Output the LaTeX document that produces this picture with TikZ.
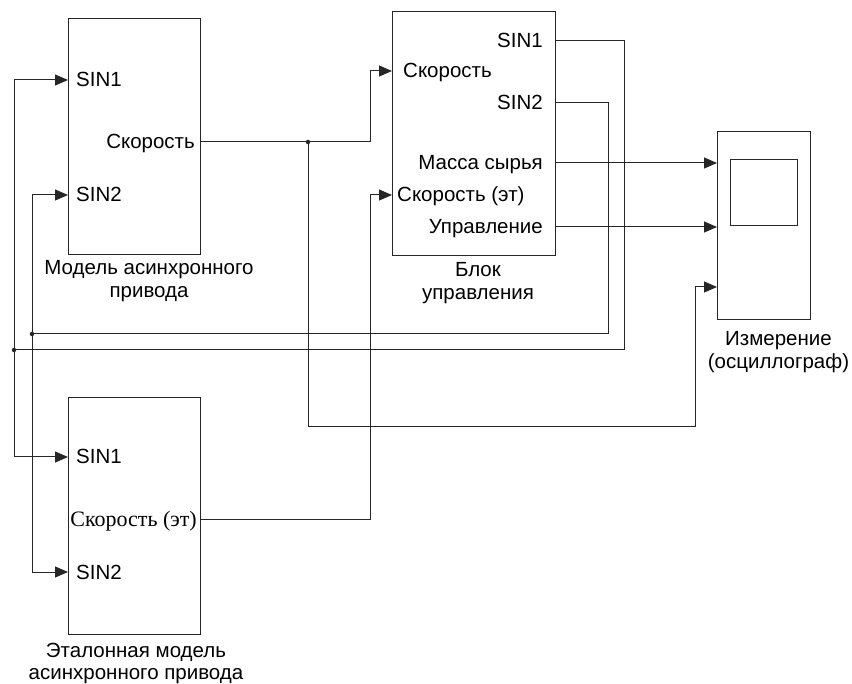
\documentclass[tikz,border=0pt]{standalone}
\usepackage{fontspec}
\setmainfont{Liberation Sans}
\newfontfamily\timesfont{Liberation Serif}
\usetikzlibrary{arrows.meta, positioning, calc}

\begin{document}
\begin{tikzpicture}[x=1pt, y=-1pt,
  block/.style={draw=black!85, line width=1pt, inner sep=0pt},
  port/.style={font=\fontsize{20.5}{24}\selectfont, inner ysep=0pt, inner xsep=8pt,
               text height=14pt, text depth=0pt},
  caption/.style={font=\fontsize{20.5}{22.5}\selectfont, align=center, inner sep=0pt},
  wire/.style={draw=black!85, line width=1pt},
  arrow/.style={wire, -{Triangle[length=13pt, width=11pt]}},
  junction/.style={circle, fill=black!85, inner sep=0pt, minimum size=4.5pt}
]
  \useasboundingbox (0,0) rectangle (852,684);

  % blocks
  \node[block, minimum width=132pt, minimum height=236pt] (model)  at (134,137) {};
  \node[block, minimum width=163pt, minimum height=244pt] (ctrl)   at (473.5,134) {};
  \node[block, minimum width=93pt,  minimum height=188pt] (scope)  at (763.5,226) {};
  \node[block, minimum width=67pt,  minimum height=66pt]  (screen) at (763.5,193) {};
  \node[block, minimum width=132pt, minimum height=236pt] (etalon) at (134,516) {};

  % captions
  \node[caption, below=5pt of model, xshift=15pt]  {Модель асинхронного\\привода};
  \node[caption, below=6pt of ctrl, xshift=4.5pt]  {Блок\\управления};
  \node[caption, below=11pt of scope, xshift=15pt] {Измерение\\(осциллограф)};
  \node[caption, below=8pt of etalon, xshift=2pt]  {Эталонная модель\\асинхронного привода};

  % ports of the model
  \node[port, anchor=west] (m-sin1)  at (68,80)   {SIN1};
  \node[port, anchor=west] (m-sin2)  at (68,195)  {SIN2};
  \node[port, anchor=east, inner xsep=5pt] (m-speed) at (200,142) {Скорость};

  % ports of the control block
  \node[port, anchor=west, inner xsep=11pt] (c-speed)   at (392,71)  {Скорость};
  \node[port, anchor=west, inner xsep=5pt]  (c-speedet) at (392,195) {Скорость (эт)};
  \node[port, anchor=east, inner xsep=12pt] (c-sin1)    at (555,41)  {SIN1};
  \node[port, anchor=east, inner xsep=12pt] (c-sin2)    at (555,103) {SIN2};
  \node[port, anchor=east, inner xsep=12pt] (c-mass)    at (555,163) {Масса сырья};
  \node[port, anchor=east, inner xsep=12pt] (c-control) at (555,227) {Управление};

  % ports of the reference model
  \node[port, anchor=west] (e-sin1) at (68,457) {SIN1};
  \node[port, anchor=west] (e-sin2) at (68,572) {SIN2};
  \node[port, anchor=east, inner xsep=3pt, font=\timesfont\fontsize{22}{24}\selectfont]
    (e-speed) at (200,520) {Скорость (эт)};

  % scope inputs
  \coordinate (s-in1) at (717,163);
  \coordinate (s-in2) at (717,227);
  \coordinate (s-in3) at (717,287);

  % junctions
  \node[junction] (j1) at (308,142) {};
  \node[junction] (j2) at (14,350) {};
  \node[junction] (j3) at (32,334) {};

  % signals
  \draw[arrow] (m-speed.east) -- ++(170,0) |- (c-speed.west);
  \draw[arrow] (j1.center) -- ++(0,285) -- ++(387,0) |- (s-in3);
  \draw[arrow] (e-speed.east) -- ++(170,0) |- (c-speedet.west);
  \draw[arrow] (c-mass.east) -- (s-in1);
  \draw[arrow] (c-control.east) -- (s-in2);

  \draw[wire] (c-sin1.east) -- ++(69,0) |- (j2.center);
  \draw[wire] (c-sin2.east) -- ++(53,0) |- (j3.center);
  \draw[arrow] (j2.center) |- (m-sin1.west);
  \draw[arrow] (j2.center) |- (e-sin1.west);
  \draw[arrow] (j3.center) |- (m-sin2.west);
  \draw[arrow] (j3.center) |- (e-sin2.west);
\end{tikzpicture}
\end{document}
